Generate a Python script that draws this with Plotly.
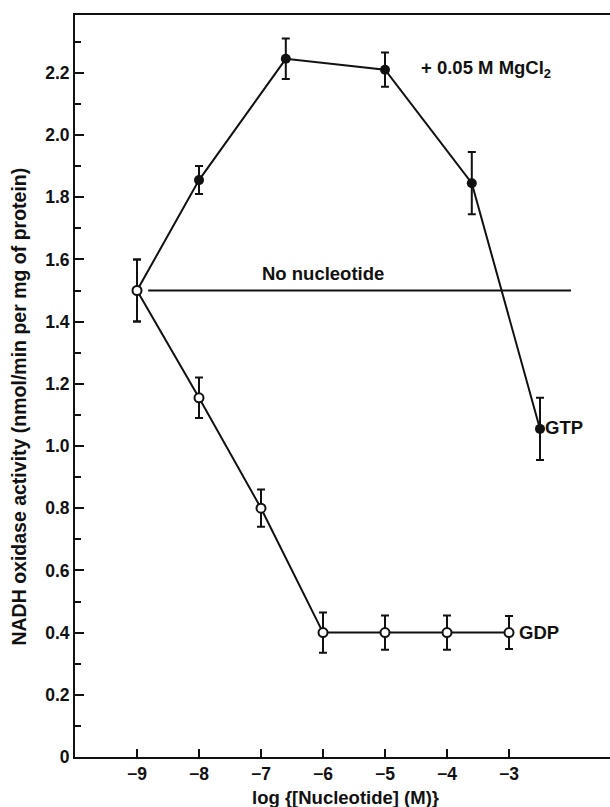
import plotly.graph_objects as go

# log10 nucleotide concentration (M) and NADH oxidase activity
gtp_x = [-9, -8, -6.6, -5, -3.6, -2.5]
gtp_y = [1.50, 1.855, 2.245, 2.21, 1.845, 1.055]
gtp_err = [0.10, 0.045, 0.065, 0.055, 0.10, 0.10]

gdp_x = [-9, -8, -7, -6, -5, -4, -3]
gdp_y = [1.50, 1.155, 0.80, 0.40, 0.40, 0.40, 0.40]
gdp_err = [0.10, 0.065, 0.06, 0.065, 0.055, 0.055, 0.053]

# control level without added nucleotide
none_x = [-8.82, -2.0]
none_y = [1.50, 1.50]

x_ticks = [-9, -8, -7, -6, -5, -4, -3]
y_ticks = [0, 0.2, 0.4, 0.6, 0.8, 1.0, 1.2, 1.4, 1.6, 1.8, 2.0, 2.2]
y_ticktext = ["0", "0.2", "0.4", "0.6", "0.8", "1.0", "1.2", "1.4", "1.6", "1.8", "2.0", "2.2"]

FONT = "Arial, Liberation Sans, Helvetica, sans-serif"
INK = "#111111"

fig = go.Figure()

fig.add_trace(go.Scatter(
    x=none_x, y=none_y, mode="lines",
    line=dict(color=INK, width=2), hoverinfo="skip", showlegend=False,
))

fig.add_trace(go.Scatter(
    x=gtp_x, y=gtp_y, mode="lines+markers",
    line=dict(color=INK, width=2),
    marker=dict(symbol="circle", size=10, color=INK),
    error_y=dict(type="data", array=gtp_err, visible=True, color=INK, thickness=2, width=4),
    name="GTP", showlegend=False,
))

fig.add_trace(go.Scatter(
    x=gdp_x, y=gdp_y, mode="lines+markers",
    line=dict(color=INK, width=2),
    marker=dict(symbol="circle", size=9, color="white", line=dict(color=INK, width=2)),
    error_y=dict(type="data", array=gdp_err, visible=True, color=INK, thickness=2, width=4),
    name="GDP", showlegend=False,
))

tick_font = dict(family=FONT, size=17.5, color=INK, weight="bold")
label_font = dict(family=FONT, size=18.5, color=INK, weight="bold")

fig.add_annotation(x=-7.02, y=1.555, text="No nucleotide", showarrow=False,
                   xanchor="left", yanchor="middle", font=label_font)
fig.add_annotation(x=-4.45, y=2.212, text="+ 0.05 M MgCl<sub>2</sub>", showarrow=False,
                   xanchor="left", yanchor="middle", font=label_font)
fig.add_annotation(x=-2.45, y=1.058, text="GTP", showarrow=False,
                   xanchor="left", yanchor="middle", font=label_font)
fig.add_annotation(x=-2.876, y=0.40, text="GDP", showarrow=False,
                   xanchor="left", yanchor="middle", font=label_font)

# axis titles
fig.add_annotation(xref="paper", yref="paper", x=-0.105, y=0.472,
                   text="NADH oxidase activity (nmol/min per mg of protein)",
                   textangle=-90, showarrow=False, xanchor="center", yanchor="middle",
                   font=dict(family=FONT, size=19.5, color=INK, weight="bold"))
fig.add_annotation(xref="paper", yref="paper", x=0.505, y=-0.054,
                   text="log {[Nucleotide] (M)}", showarrow=False,
                   xanchor="center", yanchor="middle", font=label_font)

fig.update_layout(
    width=610, height=807,
    margin=dict(l=75, r=0, t=15, b=50),
    paper_bgcolor="white", plot_bgcolor="white",
    font=dict(family=FONT, color=INK),
)

fig.update_xaxes(
    range=[-10, -10 + 535 / 62], tickvals=x_ticks,
    showgrid=False, zeroline=False,
    showline=True, linecolor=INK, linewidth=2, mirror=True,
    ticks="inside", ticklen=8, tickwidth=2, tickcolor=INK,
    tickfont=tick_font,
)
fig.update_yaxes(
    range=[0, 742 / 311], tickvals=y_ticks, ticktext=y_ticktext,
    showgrid=False, zeroline=False,
    showline=True, linecolor=INK, linewidth=2,
    ticks="inside", ticklen=9, tickwidth=2, tickcolor=INK,
    minor=dict(ticks="inside", ticklen=6, tickwidth=2, tickcolor=INK, dtick=0.1, showgrid=False),
    tickfont=tick_font,
)

fig.write_html("out.html")
